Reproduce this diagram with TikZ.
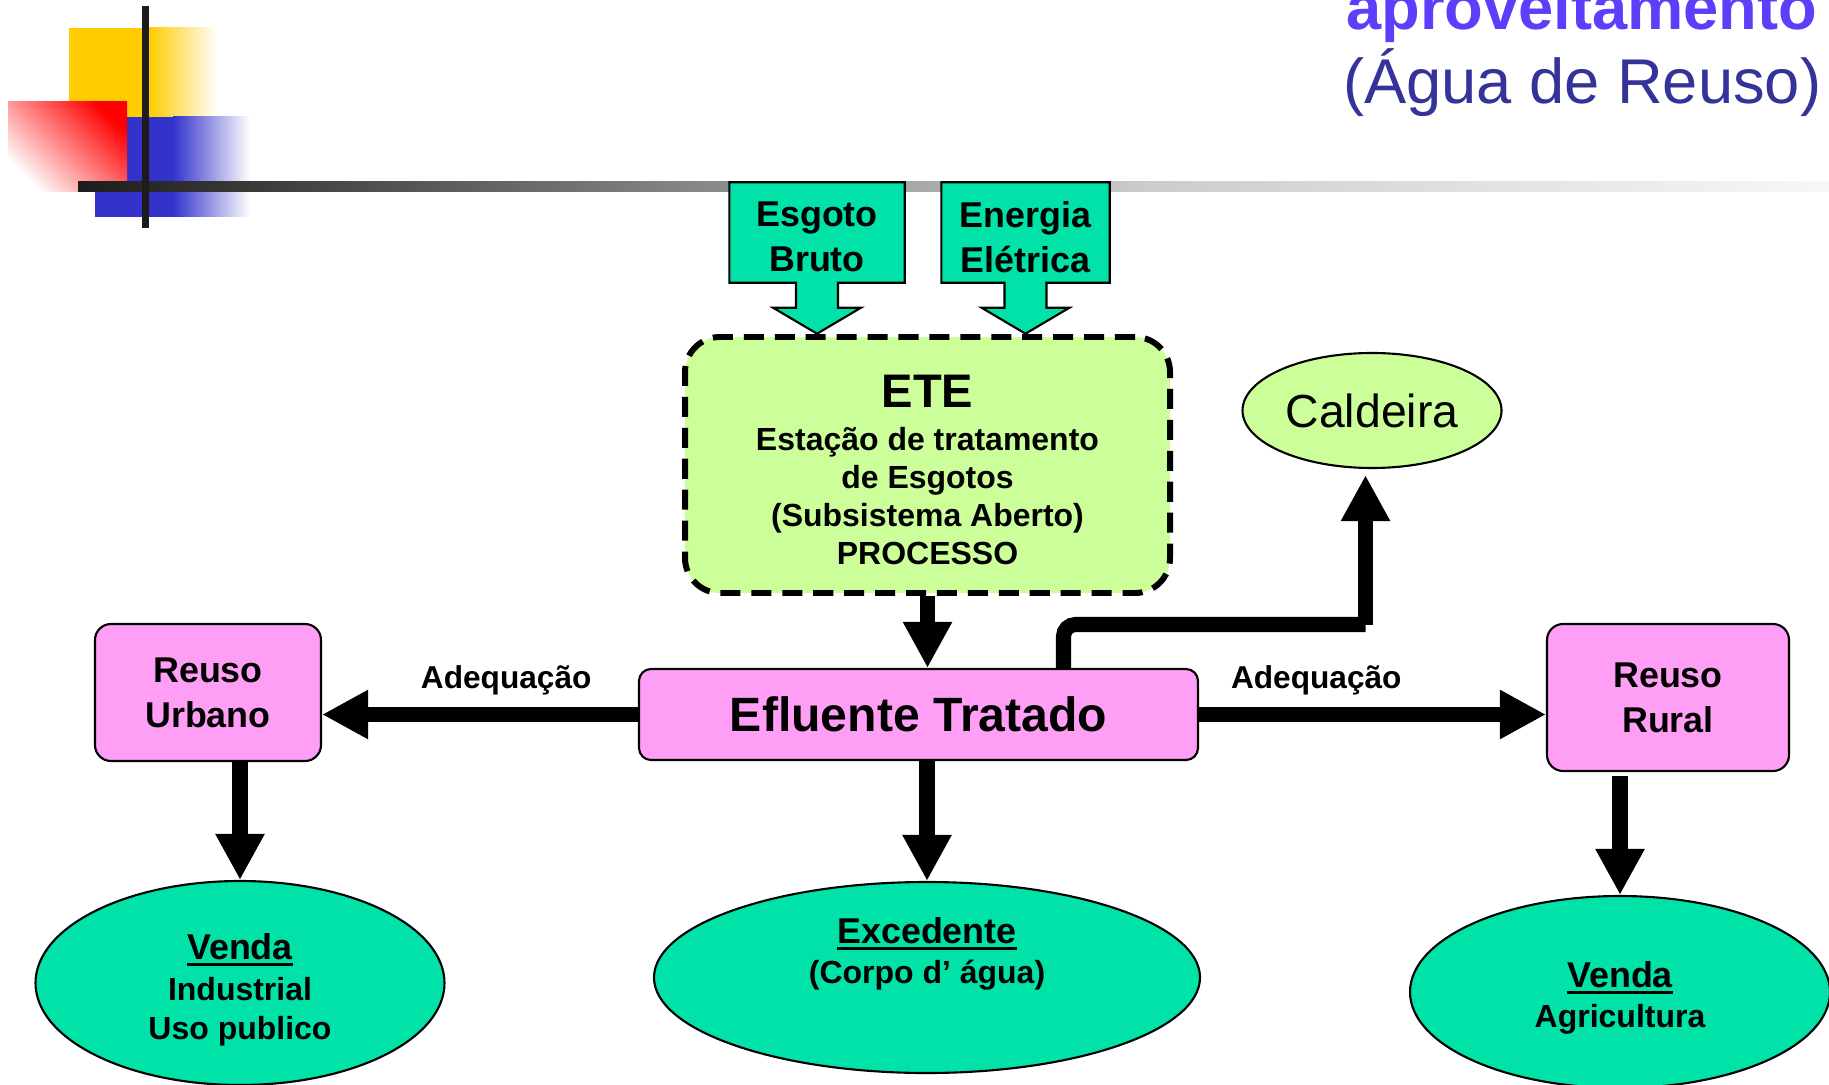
\documentclass[tikz,border=0pt]{standalone}
\usepackage{fontspec}
\setmainfont{Liberation Sans}
\usetikzlibrary{shapes.geometric,arrows.meta,positioning,calc}
\definecolor{tealfill}{RGB}{0,226,168}
\definecolor{limefill}{RGB}{204,255,153}
\definecolor{pinkfill}{RGB}{255,158,245}
\definecolor{logoyellow}{RGB}{255,204,0}
\definecolor{logoblue}{RGB}{51,51,204}
\definecolor{logored}{RGB}{255,0,0}
\definecolor{bardark}{RGB}{28,28,28}
\definecolor{titleblue}{RGB}{93,62,250}
\definecolor{subtblue}{RGB}{51,51,153}
\newsavebox{\undlbox}
\newcommand{\undl}[1]{\sbox{\undlbox}{#1}\rlap{\rule[-2pt]{\wd\undlbox}{0.85pt}}\usebox{\undlbox}}
\tikzset{box/.style={draw, line width=0.6pt, fill=pinkfill, rounded corners=1.6mm, align=center, inner sep=0pt, font=\bfseries\fontsize{10.2}{12.8}\selectfont},
  inbox/.style={draw, line width=0.6pt, fill=tealfill},
  intext/.style={align=center, inner sep=0pt, font=\bfseries\fontsize{10.2}{12.8}\selectfont},
  bubble/.style={ellipse, draw, line width=0.6pt, fill=tealfill, align=center, inner sep=0pt, font=\bfseries\fontsize{9.1}{11.2}\selectfont},
  flow/.style={line width=4.3pt, -{Triangle[width=13.1pt,length=13.1pt]}},
  pipe/.style={line width=4.3pt},
  lbl/.style={inner sep=0pt, outer sep=0pt, font=\bfseries\fontsize{9}{10.8}\selectfont}}

\begin{document}
\begin{tikzpicture}[x=0.1mm,y=-0.1mm]
  \useasboundingbox (0,0) rectangle (1829,1085);
  \clip (0,0) rectangle (1829,1085);
  % logo in the corner
  \fill[logoyellow] (69,28) rectangle (149,117);
  \shade[left color=logoyellow, right color=white] (149,28) rectangle (217,117);
  \fill[logoblue] (95,117) rectangle (173,217);
  \shade[left color=logoblue, right color=white] (173,117) rectangle (250,217);
  \shade[top color=logored, bottom color=white, shading angle=-45] (8,102) rectangle (127,192);
  \shade[left color=bardark, right color=black!47] (78,182) rectangle (700,192);
  \shade[left color=black!47, right color=black!20] (700,182) rectangle (1150,192);
  \shade[left color=black!20, right color=black!3] (1150,182) rectangle (1829,192);
  \fill[bardark] (142,6) rectangle (149,228);

  \node[anchor=base east, inner sep=0pt, text=titleblue, font=\bfseries\fontsize{18}{21}\selectfont] (ttlA) at (1818,30) {aproveitamento};
  \node[anchor=base east, inner sep=0pt, text=subtblue, font=\fontsize{18}{21}\selectfont] (ttlB) at (1822,104) {(Água de Reuso)};

  % inputs
  \node[minimum width=17.4mm, minimum height=9.9mm, inner sep=0pt] (esgbox) at (817,232.5) {};
  \node[minimum width=16.7mm, minimum height=9.9mm, inner sep=0pt] (enebox) at (1025.5,232.5) {};
  \foreach \b in {esgbox,enebox}
    \draw[inbox] (\b.north west) -- (\b.north east) -- (\b.south east)
      -- ($(\b.south)+(21,0)$) -- ++(0,25) -- ++(23,0) -- ($(\b.south)+(0,51)$)
      -- ($(\b.south)+(-44,25)$) -- ++(23,0) -- ($(\b.south)+(-21,0)$)
      -- (\b.south west) -- cycle;
  \node[intext] (esg) at ([yshift=-1.3pt]esgbox.center) {Esgoto\\Bruto};
  \node[intext] (ene) at ([yshift=-1.3pt]enebox.center) {Energia\\Elétrica};

  \node[draw, line width=1.7pt, dash pattern=on 5.7pt off 3.1pt, fill=limefill, rounded corners=3.5mm, minimum width=48.5mm, minimum height=25.6mm, align=center, inner sep=0pt, font=\bfseries\fontsize{9.1}{10.75}\selectfont] (ete) at (927.5,465)
    {\mbox{}\\[1.15pt]{\fontsize{13.4}{16}\selectfont ETE}\\[1.7pt]Estação de tratamento\\de Esgotos\\(Subsistema Aberto)\\PROCESSO};
  \node[ellipse, draw, line width=0.6pt, fill=limefill, minimum width=25.9mm, minimum height=11.5mm, inner sep=0pt, font=\fontsize{13.2}{16}\selectfont] (cald) at (1372,410.5) {Caldeira\hspace{3pt}};

  \node[box, minimum width=55.9mm, minimum height=9.1mm, rounded corners=1.2mm, font=\bfseries\fontsize{13.7}{16}\selectfont] (eflu) at (918.5,714.5) {Efluente Tratado};
  \node[box, minimum width=22.6mm, minimum height=13.7mm] (urb) at (208,692.5) {Reuso\\Urbano};
  \node[box, minimum width=24.2mm, minimum height=14.7mm] (rur) at (1668,697.5) {Reuso\\Rural};

  \node[bubble, minimum width=40.9mm, minimum height=20.4mm] (vind) at (240,983)
    {\mbox{}\\[0.1pt]{\fontsize{10.2}{12}\selectfont\undl{Venda}}\\[0.5pt]Industrial\\Uso publico};
  \node[bubble, minimum width=54.6mm, minimum height=19.1mm] (exced) at (927,977.5)
    {{\fontsize{10.2}{12}\selectfont\undl{Excedente}}\\[0.2pt](Corpo d’ água)\\[4.3pt]\mbox{}};
  \node[bubble, minimum width=42mm, minimum height=19.2mm] (vagr) at (1620,992)
    {\mbox{}\\[-0.6pt]{\fontsize{10.2}{12}\selectfont\undl{Venda}}\\[0.2pt]Agricultura};

  % connectors
  \draw[flow] (ete.south) -- (ete.south |- eflu.north);
  \draw[flow] (eflu.west) -- (eflu.west -| urb.east) node[lbl, pos=0.417, above=1.9mm] {Adequação};
  \draw[flow] (eflu.east) -- (eflu.east -| rur.west) node[lbl, pos=0.338, above=1.9mm] {Adequação};
  \draw[flow] (eflu.south -| exced.north) -- (exced.north);
  \draw[flow] (vind.north |- urb.south) -- (vind.north);
  \draw[flow, shorten <=0.4mm] (vagr.north |- rur.south) -- (vagr.north);
  \coordinate (elbow) at (1365.5,624.5);
  \draw[pipe, rounded corners=1.2mm] ([xshift=14.5mm]eflu.north) |- (elbow);
  \draw[flow, shorten >=0.6mm] (elbow) -- (elbow |- cald.south);
\end{tikzpicture}
\end{document}
